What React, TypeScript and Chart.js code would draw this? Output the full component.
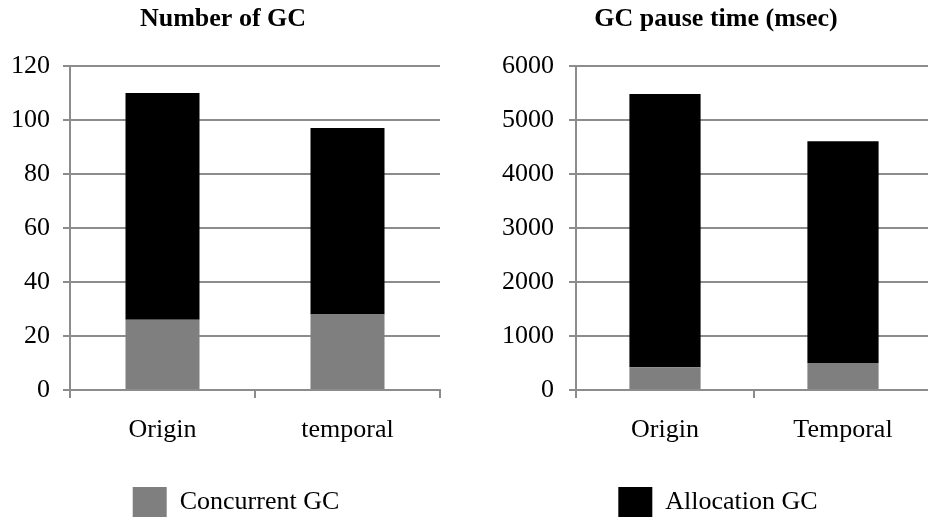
import { useEffect, useRef } from "react";
import { Chart, registerables } from "chart.js";

Chart.register(...registerables);

// Data
const seriesNames = ["Concurrent GC", "Allocation GC"];
const countCategories = ["Origin", "temporal"];
const countConcurrent = [26, 28];
const countAllocation = [84, 69];
const pauseCategories = ["Origin", "Temporal"];
const pauseConcurrent = [420, 500];
const pauseAllocation = [5060, 4105];
const countTicks = { max: 120, step: 20 };
const pauseTicks = { max: 6000, step: 1000 };

const FONT = "'Liberation Serif', 'Times New Roman', serif";
const GRID = "#8c8c8c";
const GRAY = "#7f7f7f";

type PanelProps = {
  title: string;
  categories: string[];
  concurrent: number[];
  allocation: number[];
  ticks: { max: number; step: number };
  legendIndex: number;
  legendShift: number;
  left: number;
  width: number;
  padLeft: number;
  padRight: number;
  yWidth: number;
  yPad: number;
};

function Panel(p: PanelProps) {
  const ref = useRef<HTMLCanvasElement | null>(null);

  useEffect(() => {
    if (!ref.current) return;
    // nudges the legend sideways after the layout pass
    const legendOffset = {
      id: "legendOffset",
      afterLayout(chart: any) {
        const lg = chart.legend;
        if (lg) {
          lg.left += p.legendShift;
          lg.right += p.legendShift;
        }
      },
    };
    const chart = new Chart(ref.current, {
      type: "bar",
      data: {
        labels: p.categories,
        datasets: [
          {
            label: seriesNames[0],
            data: p.concurrent,
            backgroundColor: GRAY,
            borderWidth: 0,
            categoryPercentage: 1,
            barPercentage: 0.4,
          },
          {
            label: seriesNames[1],
            data: p.allocation,
            backgroundColor: "#000000",
            borderWidth: 0,
            categoryPercentage: 1,
            barPercentage: 0.4,
          },
        ],
      },
      plugins: [legendOffset],
      options: {
        responsive: false,
        animation: false,
        layout: { padding: { left: p.padLeft, right: p.padRight, top: 0, bottom: 0 } },
        plugins: {
          tooltip: { enabled: false },
          title: {
            display: true,
            text: p.title,
            color: "#000",
            font: { family: FONT, size: 26, weight: "bold" },
            padding: { top: 3.5, bottom: 31.3 },
          },
          legend: {
            display: true,
            position: "bottom",
            labels: {
              boxWidth: 34,
              boxHeight: 30,
              padding: 10,
              color: "#000",
              font: { family: FONT, size: 26 },
              filter: (item) => item.datasetIndex === p.legendIndex,
            },
          },
        },
        scales: {
          x: {
            stacked: true,
            afterFit: (scale) => {
              scale.height = 87;
            },
            grid: {
              offset: true,
              drawOnChartArea: false,
              drawTicks: true,
              tickLength: 8,
              color: GRID,
              lineWidth: 2,
            },
            border: { display: true, color: GRID, width: 2 },
            ticks: {
              color: "#000",
              padding: 17,
              font: { family: FONT, size: 26 },
            },
          },
          y: {
            stacked: true,
            min: 0,
            max: p.ticks.max,
            afterFit: (scale) => {
              scale.width = p.yWidth;
            },
            grid: {
              drawTicks: true,
              tickLength: 7,
              color: GRID,
              lineWidth: 2,
            },
            border: { display: true, color: GRID, width: 2 },
            ticks: {
              stepSize: p.ticks.step,
              color: "#000",
              padding: p.yPad,
              font: { family: FONT, size: 26 },
              callback: (v) => String(v),
            },
          },
        },
      },
    });
    return () => chart.destroy();
  }, []);

  return (
    <canvas
      ref={ref}
      width={p.width}
      height={527}
      style={{ position: "absolute", left: p.left, top: 0, width: p.width, height: 527, display: "block" }}
    />
  );
}

export default function App() {
  return (
    <div
      style={{
        position: "fixed",
        left: 0,
        top: 0,
        width: 928,
        height: 519,
        overflow: "hidden",
        background: "#fff",
      }}
    >
      <Panel
        title="Number of GC"
        categories={countCategories}
        concurrent={countConcurrent}
        allocation={countAllocation}
        ticks={countTicks}
        legendIndex={0}
        legendShift={13}
        left={0}
        width={464}
        padLeft={6}
        padRight={24}
        yWidth={64}
        yPad={13}
      />
      <Panel
        title="GC pause time (msec)"
        categories={pauseCategories}
        concurrent={pauseConcurrent}
        allocation={pauseAllocation}
        ticks={pauseTicks}
        legendIndex={1}
        legendShift={2}
        left={464}
        width={468}
        padLeft={36}
        padRight={0}
        yWidth={76}
        yPad={15}
      />
    </div>
  );
}
